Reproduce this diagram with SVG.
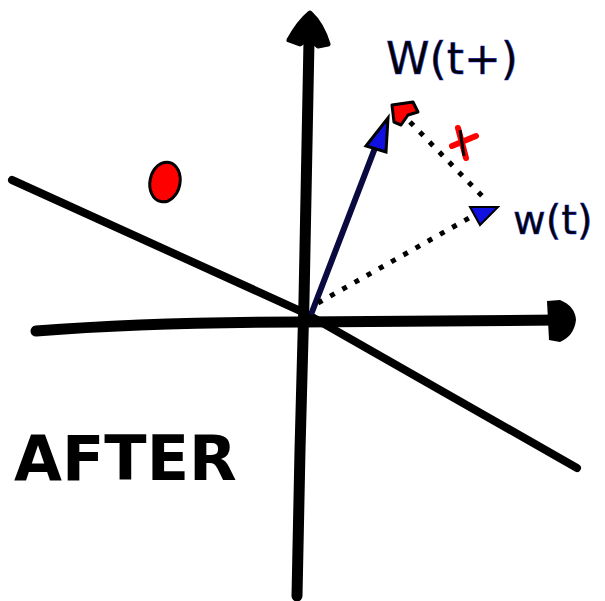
<svg xmlns="http://www.w3.org/2000/svg" width="605" height="601" viewBox="0 0 605 601">
<style>
.ax{stroke:#000;stroke-width:11;fill:none;stroke-linecap:round;stroke-linejoin:round}
.ln{stroke:#000;stroke-width:8;fill:none;stroke-linecap:round}
.vec{stroke:#0a0a40;stroke-width:6;fill:none;stroke-linecap:round}
.dot{stroke:#000;stroke-width:5;fill:none;stroke-dasharray:5 9}
.lbl{font-family:"DejaVu Sans",sans-serif;fill:#000;stroke:#1020d0;stroke-width:0.5}
</style>
<rect width="605" height="601" fill="#fff"/>
<g id="axes">
<path class="ax" d="M297,596 L300,450 L304,300 L309,40"/>
<path d="M289,40 Q299,22 310,13 Q322,24 328,44 L318,46 L309,38 L300,44 Z" fill="#000" stroke="#000" stroke-width="5" stroke-linejoin="round"/>
<path class="ax" d="M36,331 Q150,322 300,322 L560,320"/>
<path d="M547,301 L560,300 Q575,306 576,320 Q574,336 560,342 L549,340 Z" fill="#000"/>
</g>
<g id="boundary">
<path class="ln" d="M12,180 L305,313 L577,468"/>
</g>
<g id="connectors">
<path class="vec" d="M312,312 L380,135"/>
<path d="M366,146 L388,118 L386,152 Z" fill="#1010e0" stroke="#000" stroke-width="3"/>
<path class="dot" d="M318,303 L478,213"/>
<path d="M470,207 L498,207 L480,225 Z" fill="#1010e0" stroke="#000" stroke-width="2"/>
<path class="dot" d="M410,122 L486,200"/>
</g>
<g id="points">
<ellipse cx="165" cy="182" rx="15" ry="20" fill="#f00" stroke="#000" stroke-width="3" transform="rotate(12 165 182)"/>
<path d="M392,105 L413,102 L418,112 L408,115 L401,125 L394,122 Z" fill="#f00" stroke="#000" stroke-width="3" stroke-linejoin="round"/>
<path d="M458,128 L466,158 M452,146 L476,136" stroke="#f00" stroke-width="6" stroke-linecap="round"/>
<path d="M460,130 L464,156" stroke="#000" stroke-width="3"/>
</g>
<g id="labels">
<text class="lbl" x="386" y="74" font-size="44">W(t+)</text>
<text class="lbl" x="513" y="234" font-size="40">w(t)</text>
<text x="14" y="480" font-family="DejaVu Sans, sans-serif" font-weight="bold" font-size="62" fill="#000">AFTER</text>
</g>
</svg>
